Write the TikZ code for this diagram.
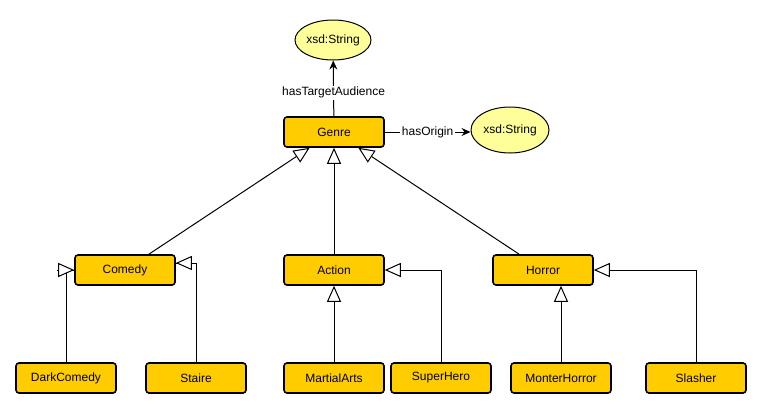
\documentclass[tikz,border=0pt]{standalone}
\usepackage{fontspec}
\setmainfont{Liberation Sans}
\usetikzlibrary{shapes.geometric,arrows.meta,calc}
\definecolor{gold}{HTML}{FFCC00}
\definecolor{pale}{HTML}{FFFF99}
\tikzset{
  cls/.style={rectangle, rounded corners=3pt, draw=black, line width=1.6pt, fill=gold,
    minimum width=100pt, minimum height=30pt, inner sep=0pt, font=\fontsize{12}{14}\selectfont},
  lit/.style={ellipse, draw=black, line width=1pt, fill=pale, minimum width=76pt,
    minimum height=40pt, inner sep=0pt, font=\fontsize{12}{14}\selectfont},
  assoc/.style={line width=1pt, -{Stealth[length=9pt,width=8pt]}},
  genline/.style={line width=1pt},
  gen/.style={line width=1pt, -{Triangle[length=16pt,width=14pt,fill=white]}},
  lbl/.style={fill=white, inner sep=1.5pt, font=\fontsize{12}{14}\selectfont}
}
\begin{document}
\begin{tikzpicture}[x=1pt,y=-1pt]
\useasboundingbox (0,0) rectangle (760,408);
\node[cls] (genre) at (334,132) {Genre};
\node[lit] (ta) at (333,40) {xsd:String};
\node[lit, minimum height=46pt, minimum width=78pt] (orig) at (510,130) {xsd:String};
\node[cls] (comedy) at (125,270) {Comedy};
\node[cls] (action) at (334,270) {Action};
\node[cls] (horror) at (543,270) {Horror};
\node[cls] (darkcomedy) at (66,378) {DarkComedy};
\node[cls] (staire) at (196,378) {Staire};
\node[cls] (martial) at (334,378) {MartialArts};
\node[cls] (superhero) at (441,378) {SuperHero};
\node[cls] (monter) at (561,378) {MonterHorror};
\node[cls] (slasher) at (696,378) {Slasher};

\draw[assoc] (genre) -- node[lbl, pos=0.42] {hasTargetAudience} (ta);
\draw[assoc] (genre) -- node[lbl, pos=0.5] {hasOrigin} (genre -| orig.west);

\coordinate (gl) at ($(genre.south west)!0.26!(genre.south east)$);
\coordinate (gr) at ($(genre.south west)!0.74!(genre.south east)$);
\draw[gen] (comedy) -- (gl);
\draw[gen] (action) -- (genre);
\draw[gen] (horror) -- (gr);

\coordinate (cw) at (comedy.west);
\coordinate (ce) at ($(comedy.east)+(0,-7)$);
\draw[genline] (darkcomedy.north) |- (cw);
\draw[gen] ($(cw)+(-17,0)$) -- (cw);
\draw[genline] (staire.north) |- (ce);
\draw[gen] ($(ce)+(17,0)$) -- (ce);

\draw[gen] (martial) -- (action);
\draw[gen] (superhero.north) |- (action.east);

\draw[gen] (monter.north) -- (monter.north |- horror.south);
\draw[gen] (slasher.north) |- (horror.east);
\end{tikzpicture}
\end{document}
